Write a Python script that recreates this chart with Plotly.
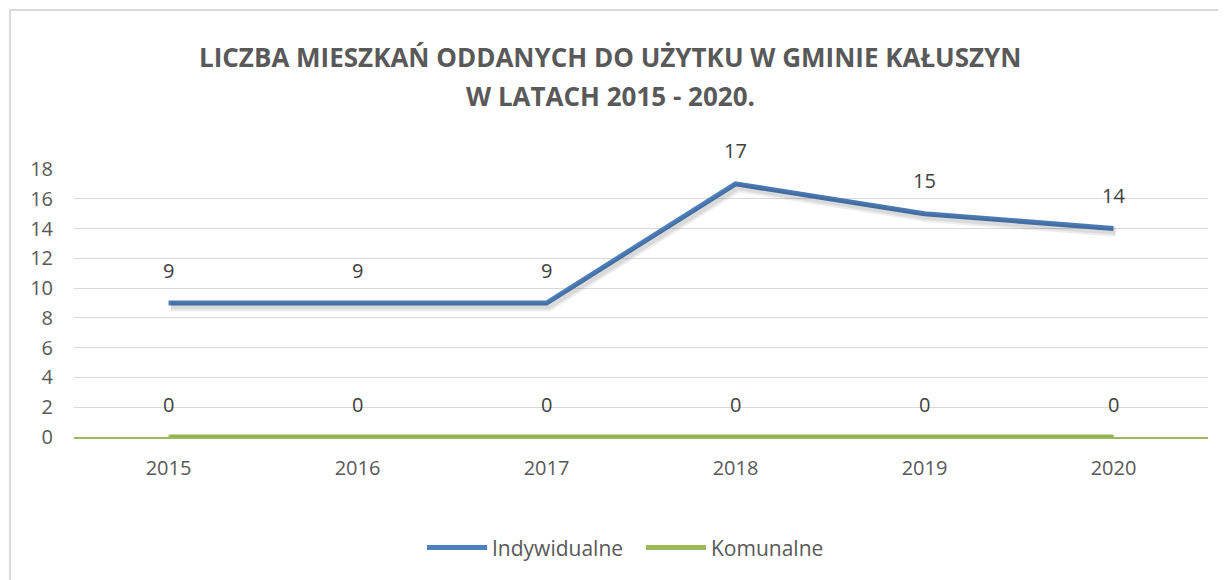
import plotly.graph_objects as go

# --- data ---
lata = ['2015', '2016', '2017', '2018', '2019', '2020']
indywidualne = [9, 9, 9, 17, 15, 14]
komunalne = [0, 0, 0, 0, 0, 0]
y_ticks = [0, 2, 4, 6, 8, 10, 12, 14, 16, 18]
tytul = ['LICZBA MIESZKAŃ ODDANYCH DO UŻYTKU W GMINIE KAŁUSZYN', 'W LATACH 2015 - 2020.']

BLUE = '#4f81bd'
GREEN = '#9bbb59'
GRAY = '#595959'
FONT = 'Open Sans'

fig = go.Figure()

# soft drop shadow: same series drawn on a slightly shifted, hidden axis pair
for series in (indywidualne, komunalne):
    fig.add_trace(go.Scatter(x=lata, y=series, mode='lines', xaxis='x2', yaxis='y2',
                             line=dict(color='rgba(0,0,0,0.07)', width=10),
                             showlegend=False, hoverinfo='skip'))
    fig.add_trace(go.Scatter(x=lata, y=series, mode='lines', xaxis='x2', yaxis='y2',
                             line=dict(color='rgba(0,0,0,0.08)', width=6),
                             showlegend=False, hoverinfo='skip'))

fig.add_trace(go.Scatter(x=lata, y=indywidualne, name='Indywidualne', mode='lines',
                         line=dict(color=BLUE, width=5)))
fig.add_trace(go.Scatter(x=lata, y=komunalne, name='Komunalne', mode='lines',
                         line=dict(color=GREEN, width=5)))

# data labels above the points (category axis -> use index positions)
for series in (indywidualne, komunalne):
    for i, v in enumerate(series):
        fig.add_annotation(x=i, y=v, text=str(v), showarrow=False, yshift=33,
                           font=dict(family=FONT, size=20, color='#404040'))

# two-line title, placed as separate lines to get Excel-like line spacing
for txt, ty in zip(tytul, [1.418, 1.272]):
    fig.add_annotation(x=0.4727, y=ty, xref='paper', yref='paper', text=txt, showarrow=False,
                       xanchor='center', yanchor='middle',
                       font=dict(family=FONT, size=26, color=GRAY, weight='bold'))

# outer chart border (the right and bottom edges fall outside the picture)
fig.add_shape(type='rect', xref='paper', yref='paper',
              x0=-0.0564, x1=1.03, y0=-0.6, y1=1.593,
              line=dict(color='#d9d9d9', width=2), fillcolor='rgba(0,0,0,0)', layer='below')

# page body has an 8px margin, so the figure is 8px smaller than the window
fig.update_layout(
    width=1218, height=572,
    margin=dict(l=66, r=18, t=161, b=135),
    paper_bgcolor='white', plot_bgcolor='white',
    font=dict(family=FONT, size=20, color=GRAY),
    showlegend=True,
    legend=dict(orientation='h', x=0.5, xanchor='center', y=-0.414, yanchor='middle',
                font=dict(family=FONT, size=21, color=GRAY), itemwidth=60,
                entrywidth=144, traceorder='normal'),
    xaxis=dict(type='category', range=[-0.5, 5.5], showgrid=False, ticks='',
               showline=True, linecolor=GREEN, linewidth=2,
               tickfont=dict(family=FONT, size=20, color=GRAY), ticklabelstandoff=12),
    yaxis=dict(range=[0, 18], tickvals=y_ticks, showgrid=True, gridcolor='#d9d9d9',
               gridwidth=1, zeroline=False, showline=False, ticks='',
               tickfont=dict(family=FONT, size=20, color=GRAY), ticklabelstandoff=20),
    xaxis2=dict(type='category', overlaying='x', range=[-0.512, 5.488], visible=False),
    yaxis2=dict(overlaying='y', range=[0.22, 18.22], visible=False),
)

fig.write_html('out.html')
